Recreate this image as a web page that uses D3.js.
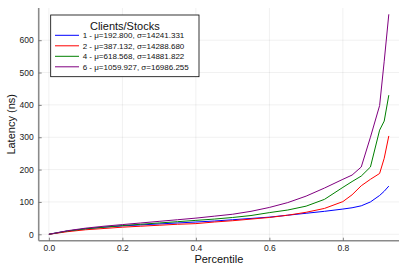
<!DOCTYPE html>
<html><head><meta charset="utf-8">
<script src="https://cdn.jsdelivr.net/npm/d3@7"></script>
<style>body{margin:0;background:#fff}svg{display:block;font-family:"Liberation Sans",Arial,sans-serif}</style>
</head><body><svg id="c" width="407" height="271"></svg>
<script>
const percentiles = [0,0.05,0.1,0.15,0.2,0.25,0.3,0.35,0.4,0.45,0.5,0.55,0.6,0.65,0.7,0.75,0.8,0.825,0.85,0.875,0.9,0.9125,0.925];
const s1 = [0,10,17,22,26,29,32,35,38,41,45,49,53,59,65,71,78,82,88,100,120,133,149];
const s2 = [0,8,14,18,22,25,28,31,33,38,42,47,52,59,68,80,101,122,150,170,188,235,304];
const s4 = [0,10,17,22,27,31,35,39,43,47,52,58,67,75,87,108,145,163,180,208,322,350,430];
const s6 = [0,11,19,25,30,35,40,45,50,56,62,71,83,98,118,143,170,183,208,300,398,535,680];
const seriesNames = ["1 - μ=192.800, σ=14241.331","2 - μ=387.132, σ=14288.680","4 - μ=618.568, σ=14881.822","6 - μ=1059.927, σ=16986.255"];
const seriesColors = ["#0000ff","#ff0000","#008000","#800080"];
const xTicks = [0,0.2,0.4,0.6,0.8];
const yTicks = [0,100,200,300,400,500,600];
const legendTitle = "Clients/Stocks";
const xLabel = "Percentile", yLabel = "Latency (ns)";

const series = [s1,s2,s4,s6];
const svg = d3.select("#c");
const L=38.7,R=399,T=8,B=240.7;
const x = d3.scaleLinear().domain([-0.02775,0.95275]).range([L,R]);
const y = d3.scaleLinear().domain([-19.8,699.5]).range([B,T]);

// grid
const g = svg.append("g");
g.selectAll(".gx").data(xTicks).join("line").attr("x1",d=>x(d)).attr("x2",d=>x(d)).attr("y1",T).attr("y2",B)
 .attr("stroke","#000").attr("stroke-opacity",0.1).attr("stroke-width",0.6);
g.selectAll(".gy").data(yTicks).join("line").attr("y1",d=>y(d)).attr("y2",d=>y(d)).attr("x1",L).attr("x2",R)
 .attr("stroke","#000").attr("stroke-opacity",0.1).attr("stroke-width",0.6);

// axes
const xa = svg.append("g").attr("transform",`translate(0,${B})`)
 .call(d3.axisBottom(x).tickValues(xTicks).tickFormat(d3.format(".1f")).tickSize(-3).tickPadding(4));
const ya = svg.append("g").attr("transform",`translate(${L},0)`)
 .call(d3.axisLeft(y).tickValues(yTicks).tickSize(-3).tickPadding(5));
[xa,ya].forEach(a=>{
  a.select(".domain").attr("stroke","#8a8a8a").attr("stroke-width",1.6);
  a.selectAll(".tick line").attr("stroke","#555").attr("stroke-width",0.7);
  a.selectAll("text").attr("font-size","8.5px").attr("fill","#222").attr("font-family","Liberation Sans, Arial, sans-serif");
});
xa.select(".domain").attr("d",`M${L},0H${R}`);
ya.select(".domain").attr("d",`M0,${T}V${B}`);

// lines
const line = d3.line().x((d,i)=>x(percentiles[i])).y(d=>y(d));
series.forEach((s,k)=>{
  svg.append("path").datum(s).attr("d",line).attr("fill","none").attr("stroke",seriesColors[k]).attr("stroke-width",1);
});

// labels
svg.append("text").attr("x",(L+R)/2).attr("y",263).attr("text-anchor","middle").attr("font-size","11px").attr("fill","#111").text(xLabel);
svg.append("text").attr("transform",`translate(15,${(T+B)/2}) rotate(-90)`).attr("text-anchor","middle").attr("font-size","11px").attr("fill","#111").text(yLabel);

// legend
const lg = svg.append("g");
lg.append("rect").attr("x",50.7).attr("y",15).attr("width",148.3).attr("height",61.7).attr("fill","#fff").attr("stroke","#000").attr("stroke-width",0.8);
lg.append("text").attr("x",124.8).attr("y",29.5).attr("text-anchor","middle").attr("font-size","11px").attr("fill","#111").text(legendTitle);
seriesNames.forEach((n,k)=>{
  const yy = 35.3 + k*10.5;
  lg.append("line").attr("x1",55).attr("x2",79).attr("y1",yy).attr("y2",yy).attr("stroke",seriesColors[k]).attr("stroke-width",1);
  lg.append("text").attr("x",82.7).attr("y",yy+2.9).attr("font-size","8px").attr("fill","#111").text(n);
});
</script></body></html>
